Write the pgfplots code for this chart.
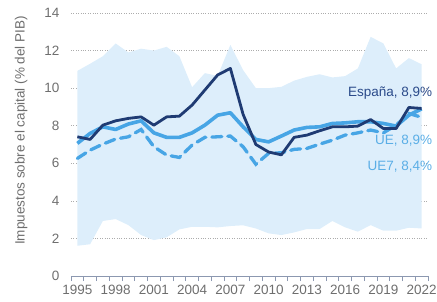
\documentclass[border=0pt]{standalone}
\usepackage{pgfplots}
\pgfplotsset{compat=1.18}
\usepgfplotslibrary{fillbetween}
\usepackage{fontspec}
\setmainfont{Liberation Sans}
\definecolor{band}{HTML}{DDEEFB}
\definecolor{esp}{HTML}{1F3B73}
\definecolor{ue}{HTML}{47A5E5}
\definecolor{esptxt}{HTML}{2A4A8A}
\definecolor{uetxt}{HTML}{5AAEE6}
\definecolor{txtgray}{HTML}{6E6E6E}
\definecolor{xaxis}{HTML}{8C98B0}
\pgfplotstableread{
year upper lower esp ue ue7
1995 10.92 1.61 7.41 7.06 6.26
1996 11.30 1.69 7.27 7.59 6.70
1997 11.70 2.93 8.03 7.94 7.02
1998 12.38 3.03 8.26 7.80 7.29
1999 11.90 2.71 8.39 8.09 7.41
2000 12.10 2.18 8.47 8.26 7.80
2001 12.00 1.91 8.03 7.62 6.88
2002 12.20 2.06 8.47 7.38 6.44
2003 11.70 2.48 8.51 7.38 6.31
2004 10.05 2.62 9.10 7.62 6.97
2005 10.80 2.62 9.90 8.03 7.38
2006 10.65 2.59 10.70 8.56 7.41
2007 12.30 2.66 11.05 8.69 7.45
2008 10.96 2.70 8.60 7.94 6.88
2009 10.00 2.53 7.00 7.27 5.95
2010 10.00 2.27 6.60 7.14 6.53
2011 10.07 2.18 6.45 7.45 6.56
2012 10.40 2.32 7.38 7.77 6.74
2013 10.60 2.50 7.50 7.91 6.79
2014 10.74 2.50 7.73 7.94 7.02
2015 10.57 2.93 7.94 8.12 7.23
2016 10.64 2.59 7.94 8.15 7.50
2017 11.05 2.36 7.98 8.21 7.62
2018 12.73 2.71 8.33 8.21 7.77
2019 12.38 2.41 7.85 8.12 7.62
2020 11.05 2.41 7.85 7.98 8.03
2021 11.60 2.57 8.97 8.56 8.65
2022 11.27 2.53 8.92 8.90 8.45
}\datatable
\begin{document}
\begin{tikzpicture}
\begin{axis}[
  at={(0,0)}, anchor=south west,
  scale only axis, width=357pt, height=263pt,
  xmin=1994.5, xmax=2022.5, ymin=0, ymax=14,
  clip=false,
  axis x line*=bottom, axis y line*=left,
  y axis line style={draw=none},
  x axis line style={color=xaxis, line width=1pt, -},
  ytick={0,2,...,14},
  ymajorgrids, grid style={dotted, color=gray!65, line width=0.6pt},
  xtick={1995,1998,...,2022},
  minor xtick={1994.5,1995.5,...,2022.5},
  tick align=outside,
  major tick length=0pt, minor tick length=5pt,
  minor x tick style={color=xaxis, line width=0.8pt},
  ytick style={draw=none},
  /pgf/number format/assume math mode=true,
  xticklabel={\pgfmathprintnumber[1000 sep={}]{\tick}},
  ticklabel style={font=\fontsize{13.5}{15}\selectfont, color=txtgray},
  yticklabel style={xshift=-8pt},
  xticklabel style={yshift=-6pt},
  ylabel={Impuestos sobre el capital (\% del PIB)},
  ylabel style={at={(axis description cs:-0.14,0.553)}, anchor=center, font=\fontsize{13.5}{15}\selectfont, color=txtgray},
]
\addplot[name path=up, draw=none] table[x=year, y=upper] {\datatable};
\addplot[name path=lo, draw=none] table[x=year, y=lower] {\datatable};
\addplot[fill=band, draw=none] fill between[of=up and lo];
\addplot[color=ue, line width=3.3pt, dash pattern=on 10pt off 6pt, line cap=round] table[x=year, y=ue7] {\datatable};
\addplot[color=ue, line width=3.6pt, line join=round] table[x=year, y=ue] {\datatable};
\addplot[color=esp, line width=2.8pt, line join=round] table[x=year, y=esp] {\datatable};
\node[anchor=east, text=esptxt, font=\fontsize{13.5}{15}\selectfont] at (axis cs:2023.1,9.73) {España, 8,9\%};
\node[anchor=east, text=uetxt, font=\fontsize{13.5}{15}\selectfont] at (axis cs:2023.1,7.18) {UE, 8,9\%};
\node[anchor=east, text=uetxt, font=\fontsize{13.5}{15}\selectfont] at (axis cs:2023.1,5.82) {UE7, 8,4\%};
\end{axis}
\pgfresetboundingbox
\path (-71pt,-25pt) rectangle (366pt,276pt);
\end{tikzpicture}
\end{document}
